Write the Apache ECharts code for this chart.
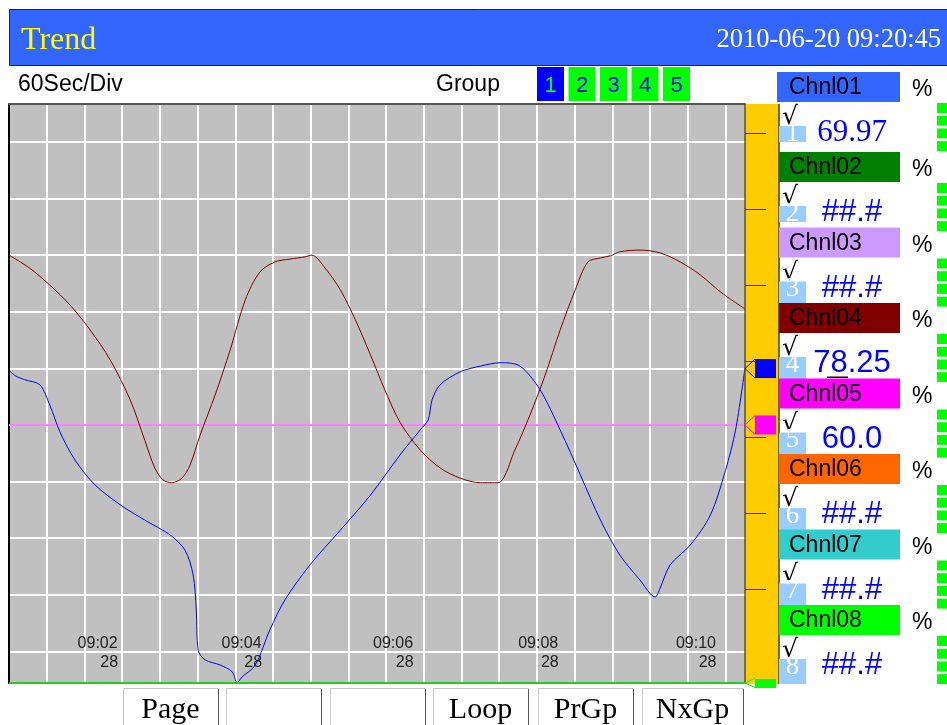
<!DOCTYPE html>
<html>
<head>
<meta charset="utf-8">
<title>Trend</title>
<script src="https://cdn.jsdelivr.net/npm/echarts@6/dist/echarts.min.js"></script>
<style>
  html, body { margin: 0; padding: 0; background: #fff; }
  #chart { width: 947px; height: 725px; }
</style>
</head>
<body>
<div id="chart"></div>
<script>
// x is seconds from the left edge of the screen (60 s per division), y is percent
const timeSpan = 1171;
const valueMin = 14.42;
const valueMax = 116.7;

const timeTicks = [141, 370, 611, 842, 1093];
const timeTickLabels = ['09:02', '09:04', '09:06', '09:08', '09:10'];
const timeTickSub = ['28', '28', '28', '28', '28'];

// [seconds, percent]
const chnl01Trace = [
  [0, 69.7], [10, 68.7], [25, 68.0], [49, 67.1], [65, 63.5], [81, 58.8], [105, 53.8],
  [137, 49.4], [177, 45.9], [216, 43.2], [256, 40.6], [280, 37.9], [293, 33.5], [298, 27.3],
  [301, 20.2], [312, 18.5], [336, 17.6], [355, 16.4], [363, 14.5], [371, 15.5], [392, 17.6],
  [415, 23.8], [439, 29.1], [479, 35.3], [527, 41.4], [575, 47.6], [622, 54.7], [654, 59.1],
  [667, 60.9], [673, 64.4], [686, 67.1], [718, 69.4], [750, 70.4], [782, 71.0], [813, 70.4],
  [845, 66.2], [877, 59.1], [909, 51.2], [941, 43.2], [972, 37.0], [1004, 32.6], [1028, 29.6],
  [1036, 31.2], [1052, 35.3], [1084, 38.8], [1116, 44.1], [1140, 52.0], [1156, 59.1], [1171, 70.1]
];
const chnl04Trace = [
  [0, 90.0], [33, 87.7], [65, 84.7], [97, 81.2], [129, 76.8], [161, 71.5], [193, 64.4],
  [216, 57.3], [232, 52.4], [245, 50.3], [259, 49.8], [275, 50.6], [288, 52.9], [304, 58.2],
  [328, 65.3], [352, 73.3], [376, 82.1], [399, 87.0], [423, 88.8], [447, 89.3], [471, 89.7],
  [482, 90.0], [503, 87.7], [527, 83.9], [551, 78.6], [575, 72.4], [598, 66.2], [622, 60.5],
  [654, 55.6], [686, 52.4], [718, 50.6], [750, 49.8], [778, 49.8], [805, 55.6], [829, 61.8],
  [853, 68.8], [877, 76.8], [901, 83.9], [921, 88.8], [941, 89.5], [957, 89.9], [972, 90.6],
  [1004, 90.9], [1036, 90.4], [1068, 88.8], [1100, 86.5], [1132, 83.5], [1171, 80.5]
];
const chnl05Level = 60.0;

const channelNames = ['Chnl01', 'Chnl02', 'Chnl03', 'Chnl04', 'Chnl05', 'Chnl06', 'Chnl07', 'Chnl08'];
const channelReadings = ['69.97', '##.#', '##.#', '78.25', '60.0', '##.#', '##.#', '##.#'];
const channelColors = ['#3366FF', '#008000', '#CC99FF', '#800000', '#FF00FF', '#FF6600', '#33CCCC', '#00FF00'];
const groupNumbers = ['1', '2', '3', '4', '5'];
const buttonLabels = ['Page', '', '', 'Loop', 'PrGp', 'NxGp'];

const SANS = '"Liberation Sans", Arial, sans-serif';
const SERIF = '"Liberation Serif", "Times New Roman", serif';

function txt(x, baseline, str, size, family, color, align, weight) {
  return {
    type: 'text', z: 20, x: x, y: baseline - size * 0.3,
    style: { text: str, fontSize: size, fontFamily: family, fill: color,
             fontWeight: weight || 'normal', align: align || 'left', verticalAlign: 'middle' }
  };
}
function box(x, y, w, h, fill, z) {
  return { type: 'rect', z: z || 10, shape: { x: x, y: y, width: w, height: h }, style: { fill: fill } };
}
function line(x1, y1, x2, y2, color, w, z) {
  return { type: 'line', z: z || 15, shape: { x1: x1, y1: y1, x2: x2, y2: y2 },
           style: { stroke: color, lineWidth: w || 1 } };
}

const chrome = [];
// title bar
chrome.push({ type: 'rect', z: 10, shape: { x: 9.5, y: 9.5, width: 945, height: 56 },
              style: { fill: '#3366FF', stroke: '#800000', lineWidth: 1 } });
chrome.push(txt(21, 50, 'Trend', 32, SERIF, '#FFFF00'));
chrome.push(txt(941, 48, '2010-06-20 09:20:45', 26.5, SERIF, '#FFFFFF', 'right'));

chrome.push(txt(18, 92, '60Sec/Div', 23, SANS, '#000'));
chrome.push(txt(436, 92, 'Group', 23, SANS, '#000'));
groupNumbers.forEach(function (n, i) {
  const x = 537 + i * 31.5;
  chrome.push(box(x, 67, 27, 34, i === 0 ? '#0000FF' : '#00FF00'));
  chrome.push(txt(x + 13.5, 93, n, 22, SANS, i === 0 ? '#00FF00' : '#0000FF', 'center'));
});

// yellow scale bar to the right of the plot
chrome.push(box(745, 104, 34, 580, '#FFCC00', 5));
chrome.push(line(745, 104, 745, 684, '#505050', 1.5, 6));
chrome.push(line(779, 104, 779, 684, '#4a3c00', 1.5, 6));
for (let k = 0; k < 7; k++) {
  chrome.push(line(745, 133.5 + k * 76, 766, 133.5 + k * 76, '#4a3c00', 1, 6));
}

// channel list
channelNames.forEach(function (name, i) {
  const top = i === 0 ? 72 : 152 + (i - 1) * 75.5;
  const bottom = top + 30;
  chrome.push(box(i === 0 ? 777 : 779, top, i === 0 ? 123 : 121, 30, channelColors[i], 12));
  chrome.push(txt(789, bottom - 7, name, 23, SANS, '#000'));
  chrome.push(txt(912, bottom - 5, '%', 23, SANS, '#000'));
  chrome.push(txt(782, bottom + 23, '\u221A', 25, '"DejaVu Sans", sans-serif', '#000'));
  const h = i < 2 ? 16 : (i === 7 ? 25 : 22);
  chrome.push(box(779, bottom + 24, 27, h, '#99CCFF', 11));
  chrome.push(txt(792.5, bottom + 40, String(i + 1), 27, SERIF, '#FFFFFF', 'center'));
  chrome.push(txt(852, bottom + 40, channelReadings[i], 31, i === 0 ? SERIF : SANS, '#0000FF', 'center'));
  for (let k = 0; k < 4; k++) {
    chrome.push(box(937, bottom + 1 + k * 12.7, 10, 10, '#00FF00'));
  }
});
chrome.push(box(827, 376.5, 21, 1.5, '#000', 21));

// soft keys
buttonLabels.forEach(function (label, i) {
  const x = [123, 226, 330, 433, 538, 642][i];
  const w = i === 5 ? 101 : 95;
  chrome.push({ type: 'rect', z: 10, shape: { x: x + 0.5, y: 688.5, width: w, height: 50 },
                style: { fill: '#fff', stroke: '#c4c4c4', lineWidth: 1 } });
  chrome.push(line(x + w + 0.5, 689, x + w + 0.5, 725, '#555', 1, 11));
  if (label) chrome.push(txt(x + w / 2, 719, label, 30, SERIF, '#000', 'center'));
});

const markers = [
  { value: [timeSpan, parseFloat(channelReadings[0])], itemStyle: { color: '#0000FF' } },
  { value: [timeSpan, parseFloat(channelReadings[4])], itemStyle: { color: '#FF00FF' } },
  { value: [timeSpan, valueMin], itemStyle: { color: '#00FF00' } }
];

const chart = echarts.init(document.getElementById('chart'));
const option = {
  animation: false,
  backgroundColor: '#fff',
  grid: { left: 9, top: 104, right: 202, bottom: 42, show: true, backgroundColor: '#C0C0C0', borderWidth: 0 },
  xAxis: [
    {
      type: 'value', min: 0, max: timeSpan, interval: 60, position: 'top',
      axisLine: { show: true, lineStyle: { color: '#555', width: 2 } },
      axisTick: { show: false }, axisLabel: { show: false },
      splitLine: { show: true, showMinLine: false, showMaxLine: false, lineStyle: { color: '#fff', width: 2 } }
    },
    {
      type: 'value', min: 0, max: timeSpan, position: 'bottom',
      axisLine: { show: false }, axisTick: { show: false }, splitLine: { show: false },
      axisLabel: {
        inside: true, margin: 11, customValues: timeTicks,
        formatter: function (v) {
          const i = timeTicks.indexOf(v);
          return '{t|' + timeTickLabels[i] + '}\n{s|' + timeTickSub[i] + '}';
        },
        rich: {
          t: { fontSize: 16, lineHeight: 19, fontFamily: SANS, color: '#222', width: 41, align: 'center' },
          s: { fontSize: 16, lineHeight: 19, fontFamily: SANS, color: '#222', width: 41, align: 'right' }
        }
      }
    }
  ],
  yAxis: {
    type: 'value', min: valueMin, max: valueMax, splitNumber: 10,
    axisLine: { show: true, lineStyle: { color: '#000', width: 2 } },
    axisTick: { show: false }, axisLabel: { show: false },
    splitLine: { show: true, showMinLine: false, showMaxLine: false, lineStyle: { color: '#fff', width: 2 } }
  },
  graphic: chrome,
  series: [
    {
      name: 'Chnl05', type: 'line', showSymbol: false, z: 3,
      lineStyle: { color: '#FF80FF', width: 2 },
      data: [[0, chnl05Level], [timeSpan, chnl05Level]]
    },
    {
      name: 'Chnl04', type: 'line', showSymbol: false, smooth: 0.3, z: 4,
      lineStyle: { color: '#800000', width: 1 },
      data: chnl04Trace
    },
    {
      name: 'Chnl01', type: 'line', showSymbol: false, smooth: 0.3, z: 5,
      lineStyle: { color: '#0000FF', width: 1 },
      data: chnl01Trace
    },
    {
      name: 'Chnl08', type: 'line', showSymbol: false, z: 6,
      lineStyle: { color: '#22CC22', width: 2 },
      data: [[0, valueMin], [timeSpan, valueMin]]
    },
    {
      name: 'markers', type: 'custom', z: 30, clip: false,
      renderItem: function (params, api) {
        const p = api.coord([api.value(0), api.value(1)]);
        const color = api.visual('color');
        const h = api.value(1) <= valueMin ? 9 : 19;
        return {
          type: 'group',
          children: [
            { type: 'polyline', shape: { points: [[p[0] + 10, p[1] - h / 2], [p[0], p[1]], [p[0] + 10, p[1] + h / 2]] },
              style: { stroke: color, fill: null, lineWidth: 1 } },
            { type: 'rect', shape: { x: p[0] + 10, y: p[1] - h / 2 + (h < 10 ? 0.5 : 0), width: 21, height: h },
              style: { fill: color } }
          ]
        };
      },
      data: markers
    }
  ]
};
chart.setOption(option);
window.addEventListener('resize', function () { chart.resize(); });
</script>
</body>
</html>
